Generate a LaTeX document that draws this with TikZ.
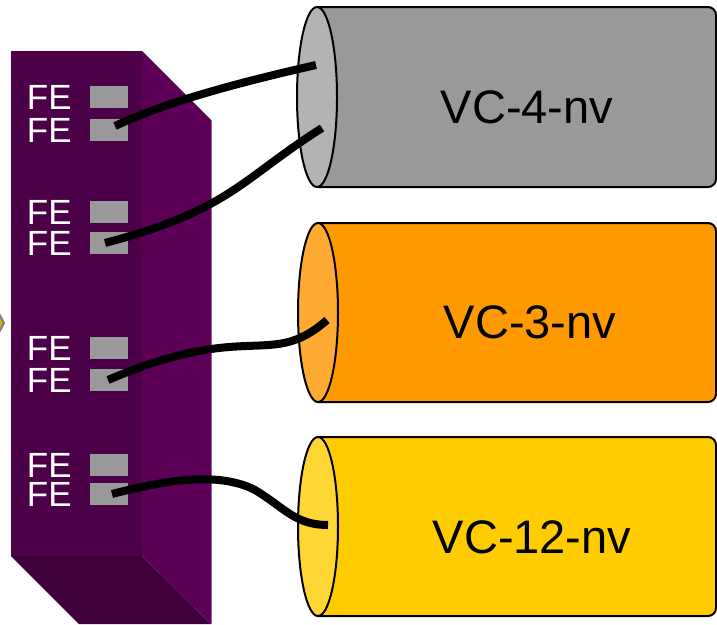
\documentclass[tikz,border=0pt]{standalone}
\usepackage{fontspec}
\setmainfont{Liberation Sans}
\usepackage{xcolor}
\usetikzlibrary{positioning}
\definecolor{boxfront}{HTML}{4B0048}
\definecolor{boxside}{HTML}{5C0057}
\definecolor{boxbottom}{HTML}{3D003A}
\definecolor{boxedge}{HTML}{A060A0}
\definecolor{portgray}{HTML}{999999}
\definecolor{grayback}{HTML}{999999}
\definecolor{grayface}{HTML}{B3B3B3}
\definecolor{orangeback}{HTML}{FF9900}
\definecolor{orangeface}{HTML}{FFAB33}
\definecolor{yellowback}{HTML}{FFCC00}
\definecolor{yellowface}{HTML}{FFD633}
\definecolor{olivetip}{HTML}{C8B400}

\begin{document}
\begin{tikzpicture}[
  x=1pt, y=-1pt,
  port/.style={fill=portgray, minimum width=38pt, minimum height=22pt, inner sep=0pt},
  fe/.style={text=white, font=\fontsize{35}{35}\selectfont, inner sep=0pt},
  tube/.style={draw=black, line width=2pt, rounded corners=8pt},
  tubeend/.style={draw=black, line width=2pt},
  vc/.style={font=\fontsize{47}{47}\selectfont, inner sep=0pt},
  cable/.style={draw=black, line width=8pt}
]
  \useasboundingbox (0,0) rectangle (717,624);

  % left edge tip
  \filldraw[fill=olivetip, draw=gray, line width=2pt] (-12,293) -- (4,323) -- (-12,353) -- cycle;

  % switch box
  \fill[boxbottom] (11,556) -- (142,556) -- (211,624) -- (79,624) -- cycle;
  \fill[boxside] (142,51) -- (211,120) -- (211,624) -- (142,556) -- cycle;
  \draw[boxedge, line width=1pt] (211,120) -- (211,624);
  \fill[boxfront] (11,51) rectangle (142,556);

  % ports
  \node[port] (p1a) at (109,97) {};
  \node[port] (p1b) at (109,130) {};
  \node[port] (p2a) at (109,212) {};
  \node[port] (p2b) at (109,243) {};
  \node[port] (p3a) at (109,348) {};
  \node[port] (p3b) at (109,380) {};
  \node[port] (p4a) at (109,465) {};
  \node[port] (p4b) at (109,494) {};
  \node[fe, left=18pt of p1a] (fe1a) {FE};
  \node[fe, left=18pt of p1b] (fe1b) {FE};
  \node[fe, left=18pt of p2a] (fe2a) {FE};
  \node[fe, left=18pt of p2b] (fe2b) {FE};
  \node[fe, left=18pt of p3a] (fe3a) {FE};
  \node[fe, left=18pt of p3b] (fe3b) {FE};
  \node[fe, left=18pt of p4a] (fe4a) {FE};
  \node[fe, left=18pt of p4b] (fe4b) {FE};

  % containers
  \draw[tube, fill=grayback] (317,7) -- (716,7) -- (716,187) -- (317,187);
  \draw[tubeend, fill=grayface] (317,97) ellipse [x radius=20pt, y radius=90pt];
  \node[vc] (vc4) at (527,107) {VC-4-nv};

  \draw[tube, fill=orangeback] (318,223) -- (716,223) -- (716,402) -- (318,402);
  \draw[tubeend, fill=orangeface] (318,312.5) ellipse [x radius=20pt, y radius=89.5pt];
  \node[vc] (vc3) at (530,322) {VC-3-nv};

  \draw[tube, fill=yellowback] (318,437) -- (716,437) -- (716,616) -- (318,616);
  \draw[tubeend, fill=yellowface] (318,526.5) ellipse [x radius=20pt, y radius=89.5pt];
  \node[vc] (vc12) at (532,537) {VC-12-nv};

  % cable ends
  \coordinate (t4a) at (316,65);
  \coordinate (t4b) at (322,128);
  \coordinate (t3) at (327,320);
  \coordinate (t12) at (328,525);

  % cables
  \draw[cable] ([xshift=6pt,yshift=4pt]p1b.center) .. controls +(55,-26) and +(-66,15) .. (t4a);
  \draw[cable] ([xshift=-4pt]p2b.center) .. controls +(125,-33) and +(-82,52) .. (t4b);
  \draw[cable] ([xshift=-1pt]p3b.center) .. controls +(142,-61) and +(-57,50) .. (t3);
  \draw[cable] ([xshift=3pt]p4b.center) .. controls +(58,-15) and +(-35,-18) .. (255,490)
    .. controls +(30,18) and +(-33,0) .. (t12);
\end{tikzpicture}
\end{document}
